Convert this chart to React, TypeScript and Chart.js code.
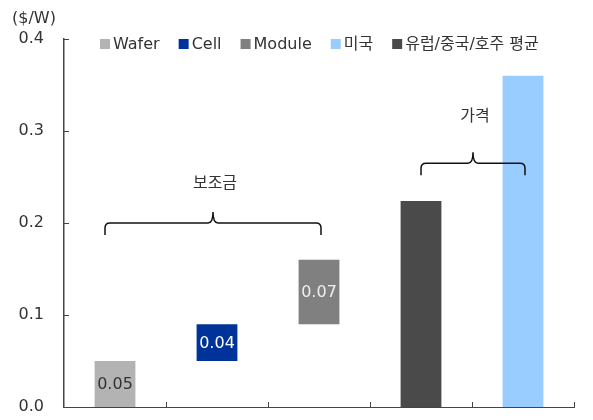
import { useEffect, useRef } from 'react';
import { Chart, registerables } from 'chart.js';

Chart.register(...registerables);

// ---- data ----
const categories = ['Wafer', 'Cell', 'Module', '유럽/중국/호주 평균', '미국'];
const waferRange: [number, number] = [0, 0.05];
const cellRange: [number, number] = [0.05, 0.09];
const moduleRange: [number, number] = [0.09, 0.16];
const euAvgValue = 0.224;
const usValue = 0.36;
const valueLabels = ['0.05', '0.04', '0.07'];
const yTickValues = [0, 0.1, 0.2, 0.3, 0.4];
const unitLabel = '($/W)';
const braceGroups = [
  { label: '보조금', from: 0, to: 2, level: 0.2 },
  { label: '가격', from: 3, to: 4, level: 0.265 },
];

const FONT = "'DejaVu Sans', 'Noto Sans CJK KR', sans-serif";

export default function App() {
  const ref = useRef<HTMLCanvasElement | null>(null);

  useEffect(() => {
    document.body.style.margin = '0';
    const canvas = ref.current;
    if (!canvas) return;

    const decor = {
      id: 'decor',
      afterDatasetsDraw(chart: any) {
        const ctx = chart.ctx;
        const labelColors = ['#333333', '#ffffff', '#eeeeee'];
        ctx.save();
        ctx.font = `16px ${FONT}`;
        ctx.textAlign = 'center';
        ctx.textBaseline = 'middle';
        for (let d = 0; d < 3; d++) {
          const meta = chart.getDatasetMeta(d);
          const el = meta.data[d];
          if (!el) continue;
          ctx.fillStyle = labelColors[d];
          ctx.fillText(valueLabels[d], el.x, (el.y + el.base) / 2 + 1);
        }
        ctx.restore();
      },
      afterDraw(chart: any) {
        const ctx = chart.ctx;
        const xs = chart.scales.x;
        const ys = chart.scales.y;
        const area = chart.chartArea;
        ctx.save();
        // inward ticks
        ctx.strokeStyle = '#444';
        ctx.lineWidth = 1;
        ctx.beginPath();
        yTickValues.forEach((v) => {
          const py = Math.round(ys.getPixelForValue(v)) + 0.5;
          if (v === 0) return;
          ctx.moveTo(area.left, py);
          ctx.lineTo(area.left + 5, py);
        });
        for (let i = 0; i < categories.length; i++) {
          const px =
            i < categories.length - 1
              ? (xs.getPixelForValue(i) + xs.getPixelForValue(i + 1)) / 2
              : area.right;
          const rx = Math.round(px) + 0.5;
          ctx.moveTo(rx, area.bottom);
          ctx.lineTo(rx, area.bottom - 5);
        }
        ctx.stroke();

        // unit label
        ctx.fillStyle = '#333';
        ctx.font = `16px ${FONT}`;
        ctx.textAlign = 'left';
        ctx.textBaseline = 'middle';
        ctx.fillText(unitLabel, 12, 19);

        // braces
        ctx.strokeStyle = '#111';
        ctx.lineWidth = 1.5;
        braceGroups.forEach((g, gi) => {
          const x1 = xs.getPixelForValue(g.from) - (gi === 0 ? 10 : 0);
          const x2 = xs.getPixelForValue(g.to) + 2;
          const yl = ys.getPixelForValue(g.level);
          const xm = (x1 + x2) / 2;
          const r = 5;
          const drop = 12;
          const peak = 11;
          ctx.beginPath();
          ctx.moveTo(x1, yl + drop);
          ctx.lineTo(x1, yl + r);
          ctx.quadraticCurveTo(x1, yl, x1 + r, yl);
          ctx.lineTo(xm - r, yl);
          ctx.quadraticCurveTo(xm, yl, xm, yl - peak);
          ctx.quadraticCurveTo(xm, yl, xm + r, yl);
          ctx.lineTo(x2 - r, yl);
          ctx.quadraticCurveTo(x2, yl, x2, yl + r);
          ctx.lineTo(x2, yl + drop);
          ctx.stroke();
          ctx.fillStyle = '#333';
          ctx.font = `16px ${FONT}`;
          ctx.textAlign = 'center';
          ctx.textBaseline = 'middle';
          ctx.fillText(g.label, xm + 2, yl - (gi === 0 ? 39 : 46));
        });

        // legend
        const items = chart.data.datasets.map((ds: any) => ({
          text: ds.label,
          color: ds.backgroundColor,
        }));
        let lx = 100;
        const ly = 44;
        ctx.font = `16px ${FONT}`;
        ctx.textAlign = 'left';
        ctx.textBaseline = 'middle';
        items.forEach((it: any) => {
          ctx.fillStyle = it.color;
          ctx.fillRect(lx, ly - 5, 10, 10);
          ctx.fillStyle = '#333';
          ctx.fillText(it.text, lx + 13, ly + 1);
          lx += 13 + ctx.measureText(it.text).width + 19;
        });
        ctx.restore();
      },
    };

    const chart = new Chart(canvas, {
      type: 'bar',
      data: {
        labels: categories,
        datasets: [
          { label: 'Wafer', data: [waferRange, null, null, null, null] as any, backgroundColor: '#b3b3b3' },
          { label: 'Cell', data: [null, cellRange, null, null, null] as any, backgroundColor: '#003399' },
          { label: 'Module', data: [null, null, moduleRange, null, null] as any, backgroundColor: '#808080' },
          { label: '미국', data: [null, null, null, null, usValue] as any, backgroundColor: '#99ccff' },
          { label: '유럽/중국/호주 평균', data: [null, null, null, euAvgValue, null] as any, backgroundColor: '#4a4a4a' },
        ],
      },
      options: {
        animation: false,
        responsive: false,
        maintainAspectRatio: false,
        layout: { autoPadding: false, padding: { left: 12, right: 19, top: 39, bottom: 13 } } as any,
        datasets: {
          bar: { grouped: false, categoryPercentage: 1, barPercentage: 0.4 },
        } as any,
        plugins: {
          legend: { display: false },
          tooltip: { enabled: false },
          title: { display: false },
        },
        scales: {
          x: {
            type: 'category',
            offset: true,
            afterFit: (s: any) => {
              s.height = 0;
              s.paddingLeft = 0;
              s.paddingRight = 0;
            },
            grid: { display: false },
            ticks: { display: false },
            border: { display: true, color: '#444', width: 1 },
          },
          y: {
            min: 0,
            max: 0.4,
            afterFit: (s: any) => {
              s.width = 52;
              s.paddingTop = 0;
              s.paddingBottom = 0;
            },
            afterBuildTicks: (s: any) => {
              s.ticks = yTickValues.map((v) => ({ value: v }));
            },
            ticks: {
              padding: 12,
              color: '#333',
              font: { family: FONT, size: 16 },
              callback: (v: any) => Number(v).toFixed(1),
            },
            grid: { display: false },
            border: { display: true, color: '#444', width: 1.5 },
          },
        },
      },
      plugins: [decor],
    });
    return () => chart.destroy();
  }, []);

  return (
    <div style={{ position: 'absolute', left: 0, top: 0, width: 593, height: 420 }}>
      <canvas ref={ref} width={593} height={420} style={{ width: 593, height: 420 }} />
    </div>
  );
}
